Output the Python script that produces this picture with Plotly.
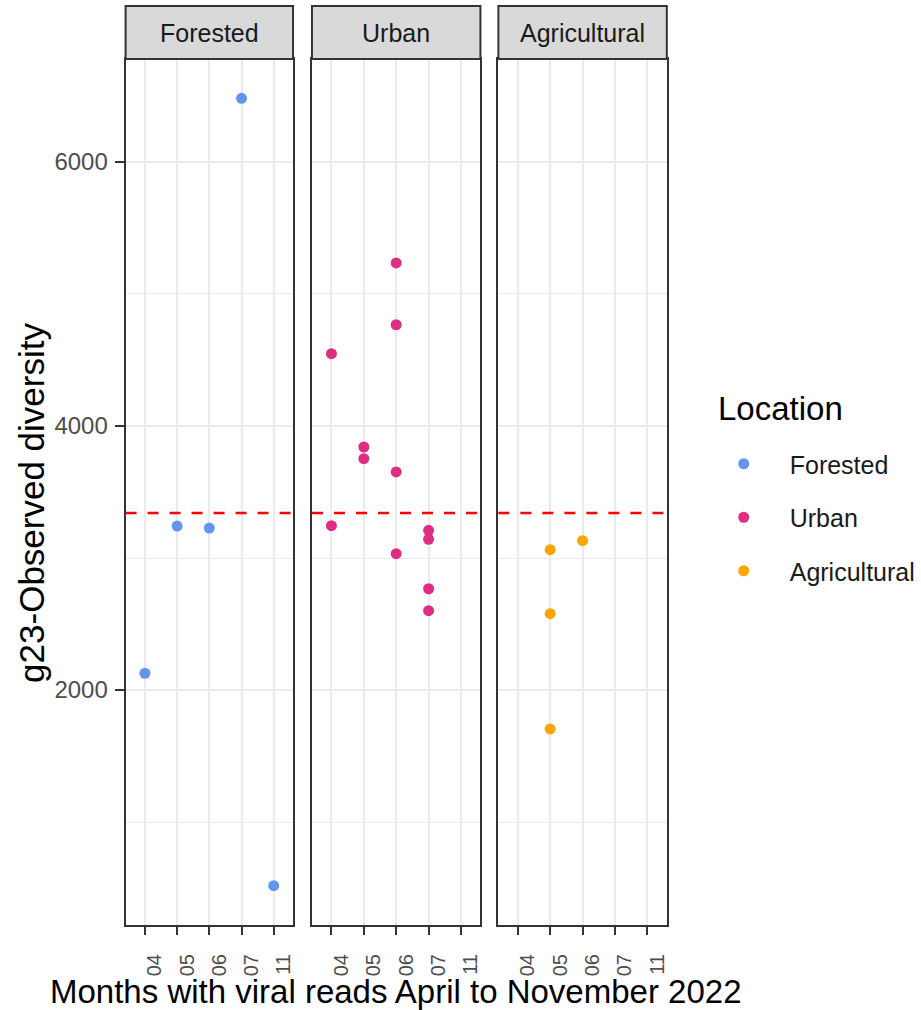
import plotly.graph_objects as go

# Months with viral reads (discrete x levels shared by every facet)
months = ["04", "05", "06", "07", "11"]

# g23-Observed diversity per sample, by location
forested_month = ["04", "05", "06", "07", "11"]
forested_value = [2127, 3242, 3227, 6482, 518]

urban_month = ["04", "04", "05", "05", "06", "06", "06", "06", "07", "07", "07", "07"]
urban_value = [4548, 3245, 3841, 3752, 5235, 4767, 3652, 3033, 3210, 3142, 2767, 2601]

agri_month = ["05", "05", "05", "06"]
agri_value = [3063, 2578, 1705, 3131]

# Reference level drawn across all facets
reference_level = 3341

locations = ["Forested", "Urban", "Agricultural"]
colors = {"Forested": "#6495ED", "Urban": "#DE2D82", "Agricultural": "#FFA500"}
series = {
    "Forested": (forested_month, forested_value),
    "Urban": (urban_month, urban_value),
    "Agricultural": (agri_month, agri_value),
}

W, H = 921, 1010
FONT = "Arial, Liberation Sans, sans-serif"

# facet panel geometry in pixels
panel_x = [(126, 294), (313, 482), (500, 669)]
panel_top, panel_bottom = 59, 925
strip_top = 6


def px_x(v):
    return v / W


def px_y(v):
    return 1 - v / H


all_vals = forested_value + urban_value + agri_value
lo, hi = min(all_vals), max(all_vals)
pad = 0.05 * (hi - lo)
y_range = [lo - pad, hi + pad]

fig = go.Figure()

for i, loc in enumerate(locations):
    xs, ys = series[loc]
    sfx = "" if i == 0 else str(i + 1)
    fig.add_trace(go.Scatter(
        x=xs, y=ys, mode="markers", name=loc,
        legendgroup=loc,
        marker=dict(color=colors[loc], size=11),
        xaxis="x" + sfx, yaxis="y" + sfx,
        hoverinfo="x+y",
    ))

layout = dict(
    width=W, height=H,
    margin=dict(l=0, r=0, t=0, b=0),
    paper_bgcolor="white",
    plot_bgcolor="white",
    font=dict(family=FONT, color="#1A1A1A"),
    showlegend=True,
    legend=dict(
        x=px_x(700), y=px_y(441), xanchor="left", yanchor="top",
        font=dict(size=25, color="#1A1A1A", family=FONT),
        itemwidth=82, tracegroupgap=18,
        bgcolor="rgba(0,0,0,0)",
    ),
)

shapes = []
annotations = []

for i, loc in enumerate(locations):
    sfx = "" if i == 0 else str(i + 1)
    x0, x1 = panel_x[i]
    layout["xaxis" + sfx] = dict(
        domain=[px_x(x0), px_x(x1)],
        anchor="y" + sfx,
        type="category",
        categoryorder="array", categoryarray=months,
        range=[-0.6, len(months) - 0.4],
        showgrid=True, gridcolor="#EBEBEB", gridwidth=2,
        showline=True, mirror=True, linecolor="#333333", linewidth=2,
        ticks="outside", ticklen=8, tickwidth=2, tickcolor="#333333",
        tickangle=-90,
        tickfont=dict(size=20, color="#4D4D4D", family=FONT),
        ticklabelstandoff=11, ticklabelshift=10,
        zeroline=False, fixedrange=True,
    )
    layout["yaxis" + sfx] = dict(
        domain=[px_y(panel_bottom), px_y(panel_top)],
        anchor="x" + sfx,
        range=y_range,
        tick0=0, dtick=2000,
        minor=dict(dtick=1000, showgrid=True, gridcolor="#EBEBEB", gridwidth=1),
        showgrid=True, gridcolor="#EBEBEB", gridwidth=2,
        showline=True, mirror=True, linecolor="#333333", linewidth=2,
        ticks="outside" if i == 0 else "", ticklen=9, tickwidth=2, tickcolor="#333333",
        showticklabels=(i == 0),
        tickfont=dict(size=24, color="#4D4D4D", family=FONT),
        ticklabelstandoff=2,
        zeroline=False, fixedrange=True,
    )
    if i > 0:
        layout["yaxis" + sfx]["matches"] = "y"

    # facet strip
    shapes.append(dict(
        type="rect", xref="paper", yref="paper",
        x0=px_x(x0), x1=px_x(x1), y0=px_y(panel_top), y1=px_y(strip_top),
        fillcolor="#D9D9D9", line=dict(color="#333333", width=2), layer="above",
    ))
    annotations.append(dict(
        text=loc, xref="paper", yref="paper",
        x=px_x((x0 + x1) / 2), y=px_y((strip_top + panel_top) / 2),
        xanchor="center", yanchor="middle", showarrow=False,
        font=dict(size=25, color="#1A1A1A", family=FONT),
    ))

    # dashed reference level
    shapes.append(dict(
        type="line", xref="x" + sfx + " domain", yref="y" + sfx,
        x0=0, x1=1, y0=reference_level, y1=reference_level,
        line=dict(color="#FF0000", width=2.5, dash="11px,11px"),
        layer="above",
    ))

# axis titles and legend title
annotations.append(dict(
    text="g23-Observed diversity", xref="paper", yref="paper",
    x=px_x(31), y=px_y(503), xanchor="center", yanchor="middle",
    textangle=-90, showarrow=False,
    font=dict(size=35, color="#000000", family=FONT),
))
annotations.append(dict(
    text="Months with viral reads April to November 2022", xref="paper", yref="paper",
    x=px_x(397), y=px_y(991), xanchor="center", yanchor="middle",
    showarrow=False,
    font=dict(size=33, color="#000000", family=FONT),
))
annotations.append(dict(
    text="Location", xref="paper", yref="paper",
    x=px_x(718), y=px_y(408), xanchor="left", yanchor="middle",
    showarrow=False,
    font=dict(size=33, color="#000000", family=FONT),
))

layout["shapes"] = shapes
layout["annotations"] = annotations
fig.update_layout(**layout)

fig.write_html("out.html")
